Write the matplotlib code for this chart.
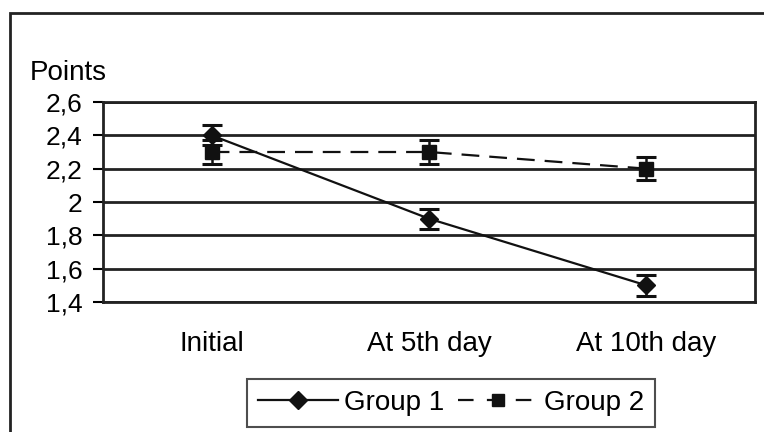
import matplotlib.pyplot as plt
from matplotlib.patches import Rectangle
from matplotlib.lines import Line2D

plt.rcParams['font.family'] = ['Liberation Sans', 'DejaVu Sans']

categories = ['Initial', 'At 5th day', 'At 10th day']
group1 = [2.4, 1.9, 1.5]
group1_err = [0.06, 0.06, 0.065]
group2 = [2.3, 2.3, 2.2]
group2_err = [0.07, 0.07, 0.07]
yticks = [1.4, 1.6, 1.8, 2.0, 2.2, 2.4, 2.6]
ytick_labels = ['1,4', '1,6', '1,8', '2', '2,2', '2,4', '2,6']

fs = 20
dash = (0, (8, 4.5))

fig = plt.figure(figsize=(7.64, 4.32), dpi=100)
ax = fig.add_axes([0.1348, 0.3009, 0.8534, 0.463])

x = range(len(categories))
ax.errorbar(x, group1, yerr=group1_err, color='#111111', lw=1.6,
            marker='D', markersize=9, capsize=7, capthick=2.2, elinewidth=1.8,
            zorder=4)
ax.errorbar(x, group2, yerr=group2_err, color='#111111', lw=1.6, ls=dash,
            marker='s', markersize=10, capsize=7, capthick=2.2, elinewidth=1.8,
            zorder=4)

ax.set_xlim(-0.5, 2.5)
ax.set_ylim(1.4, 2.6)
ax.set_yticks(yticks)
ax.set_yticklabels(ytick_labels, fontsize=19)
ax.set_xticks(list(x))
ax.set_xticklabels(categories, fontsize=fs)
ax.tick_params(axis='x', length=0, pad=21)
ax.tick_params(axis='y', length=7.2, width=1.5, pad=7.5)
for y in yticks:
    ax.axhline(y, color='#222222', lw=2, zorder=1)
for s in ax.spines.values():
    s.set_linewidth(2)
    s.set_color('#222222')

fig.text(30 / 764, 1 - 80 / 432, 'Points', fontsize=fs, va='baseline')

# outer frame, only left and top edges visible
fig.patches.append(Rectangle((10 / 764, -0.1), 1.0, 1.1 - 13 / 432, transform=fig.transFigure,
                             fill=False, lw=2, ec='#222222'))

handles = [Line2D([], [], color='#111111', lw=1.6, marker='D', markersize=9),
           Line2D([], [], color='#111111', lw=1.6, ls=(0, (7, 6)), marker='s', markersize=9)]
labels = ['Group 1', 'Group 2']
leg = fig.legend(handles, labels, loc='center', bbox_to_anchor=(451 / 764, 1 - 403 / 432),
                 ncol=2, fontsize=fs, frameon=True, fancybox=False, handlelength=2.9,
                 columnspacing=0.5, handletextpad=0.2, borderpad=0.38, borderaxespad=0)
leg.get_frame().set_edgecolor('#222222')
leg.get_frame().set_linewidth(1.5)

fig.savefig('out.png', dpi=100)
